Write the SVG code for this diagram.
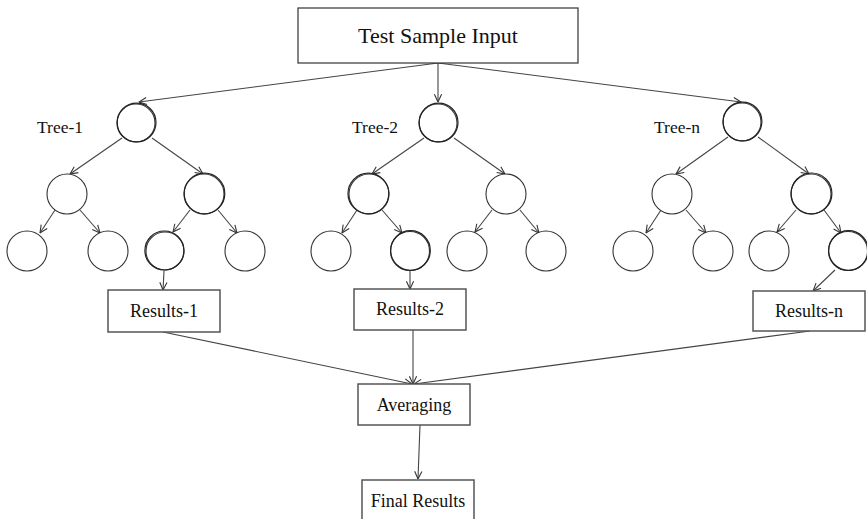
<svg xmlns="http://www.w3.org/2000/svg" width="867" height="519" viewBox="0 0 867 519">
  <defs>
    <marker id="arrow" viewBox="0 0 10 10" refX="9.5" refY="5" markerWidth="9" markerHeight="9" markerUnits="userSpaceOnUse" orient="auto">
      <polyline points="1,1 9.5,5 1,9" fill="none" stroke="#333" stroke-width="1.2"/>
    </marker>
    <style>
      .box { fill: #fff; stroke: #555; stroke-width: 1.5; }
      .title { fill: #fff; stroke: #333; stroke-width: 1.2; }
      .node { fill: #fff; stroke: #333; stroke-width: 1.1; }
      .sk { fill: none; stroke: #222; stroke-width: 1.2; }
      .edge { fill: none; stroke: #444; stroke-width: 1.1; marker-end: url(#arrow); }
      .txt { font-family: "Liberation Serif", "Times New Roman", serif; fill: #111; text-anchor: middle; dominant-baseline: central; }
      .lbl { font-family: "Liberation Serif", "Times New Roman", serif; fill: #111; font-size: 17.5px; }
    </style>
  </defs>
  <rect width="867" height="519" fill="#fff"/>

  <!-- connectors -->
  <g id="connectors">
    <!-- input to tree roots -->
    <line class="edge" x1="438" y1="63" x2="139" y2="102"/>
    <line class="edge" x1="438" y1="63" x2="438" y2="102"/>
    <line class="edge" x1="438" y1="63" x2="741" y2="102"/>
    <!-- Tree-1 edges -->
    <line class="edge" x1="122" y1="138" x2="70" y2="174"/>
    <line class="edge" x1="152" y1="138" x2="203" y2="174"/>
    <line class="edge" x1="55" y1="210" x2="40" y2="233"/>
    <line class="edge" x1="80" y1="210" x2="100" y2="233"/>
    <line class="edge" x1="190" y1="210" x2="173" y2="232"/>
    <line class="edge" x1="218" y1="210" x2="237" y2="233"/>
    <!-- Tree-2 edges -->
    <line class="edge" x1="424" y1="138" x2="372" y2="174"/>
    <line class="edge" x1="454" y1="138" x2="505" y2="174"/>
    <line class="edge" x1="357" y1="210" x2="342" y2="233"/>
    <line class="edge" x1="382" y1="210" x2="402" y2="233"/>
    <line class="edge" x1="492" y1="210" x2="475" y2="232"/>
    <line class="edge" x1="520" y1="210" x2="539" y2="233"/>
    <!-- Tree-n edges -->
    <line class="edge" x1="728" y1="137" x2="676" y2="174"/>
    <line class="edge" x1="758" y1="137" x2="809" y2="174"/>
    <line class="edge" x1="661" y1="210" x2="646" y2="233"/>
    <line class="edge" x1="686" y1="210" x2="706" y2="233"/>
    <line class="edge" x1="796" y1="210" x2="777" y2="232"/>
    <line class="edge" x1="824" y1="210" x2="841" y2="233"/>
    <!-- leaves to results -->
    <line class="edge" x1="164" y1="271" x2="163" y2="290"/>
    <line class="edge" x1="410" y1="271" x2="410" y2="289"/>
    <line class="edge" x1="835" y1="270" x2="813" y2="291"/>
    <!-- results to averaging -->
    <line class="edge" x1="163" y1="332" x2="412" y2="384"/>
    <line class="edge" x1="413" y1="330" x2="413" y2="384"/>
    <line class="edge" x1="810" y1="331" x2="414" y2="384"/>
    <!-- averaging to final -->
    <line class="edge" x1="420" y1="425" x2="418" y2="479"/>
  </g>

  <!-- input -->
  <g id="input">
    <rect class="title" x="298" y="8" width="280" height="55"/>
    <text class="txt" x="438" y="35" font-size="22">Test Sample Input</text>
  </g>

  <!-- Tree-1 -->
  <g id="tree-1">
    <text class="lbl" x="37" y="133">Tree-1</text>
    <g id="t1-root"><circle class="node" cx="136" cy="123" r="19"/><circle class="sk" cx="136.6" cy="122.5" r="19.4"/></g>
    <g id="t1-l"><circle class="node" cx="67" cy="194" r="20"/></g>
    <g id="t1-r"><circle class="node" cx="204" cy="194" r="20"/><circle class="sk" cx="204.5" cy="193.5" r="20.3"/></g>
    <g id="t1-ll"><circle class="node" cx="27" cy="251" r="20"/></g>
    <g id="t1-lr"><circle class="node" cx="108" cy="251" r="20"/></g>
    <g id="t1-rl"><circle class="node" cx="165" cy="251" r="19"/><circle class="sk" cx="164.4" cy="250.5" r="19.5"/></g>
    <g id="t1-rr"><circle class="node" cx="245" cy="251" r="20"/></g>
  </g>

  <!-- Tree-2 -->
  <g id="tree-2">
    <text class="lbl" x="352" y="133">Tree-2</text>
    <g id="t2-root"><circle class="node" cx="438" cy="123" r="19"/><circle class="sk" cx="438.6" cy="122.5" r="19.4"/></g>
    <g id="t2-l"><circle class="node" cx="369" cy="194" r="20"/><circle class="sk" cx="368.4" cy="193.5" r="20.4"/></g>
    <g id="t2-r"><circle class="node" cx="506" cy="194" r="20"/></g>
    <g id="t2-ll"><circle class="node" cx="331" cy="251" r="20"/></g>
    <g id="t2-lr"><circle class="node" cx="410" cy="251" r="19.5"/><circle class="sk" cx="410.5" cy="250.5" r="19.8"/></g>
    <g id="t2-rl"><circle class="node" cx="467" cy="251" r="20"/></g>
    <g id="t2-rr"><circle class="node" cx="546" cy="251" r="20"/></g>
  </g>

  <!-- Tree-n -->
  <g id="tree-n">
    <text class="lbl" x="654" y="133">Tree-n</text>
    <g id="tn-root"><circle class="node" cx="742" cy="122" r="19"/><circle class="sk" cx="742.5" cy="121.5" r="19.4"/></g>
    <g id="tn-l"><circle class="node" cx="672" cy="194" r="20"/></g>
    <g id="tn-r"><circle class="node" cx="811" cy="194" r="20"/><circle class="sk" cx="811.5" cy="193.4" r="20.4"/></g>
    <g id="tn-ll"><circle class="node" cx="633" cy="251" r="20"/></g>
    <g id="tn-lr"><circle class="node" cx="713" cy="251" r="20"/></g>
    <g id="tn-rl"><circle class="node" cx="769" cy="251" r="20"/></g>
    <g id="tn-rr"><circle class="node" cx="848" cy="251" r="19.5"/><circle class="sk" cx="848.5" cy="250.5" r="19.8"/></g>
  </g>

  <!-- results -->
  <g id="results-1">
    <rect class="box" x="108" y="290" width="112" height="42"/>
    <text class="txt" x="164" y="311" font-size="18">Results-1</text>
  </g>
  <g id="results-2">
    <rect class="box" x="354" y="289" width="112" height="41"/>
    <text class="txt" x="410" y="309" font-size="18">Results-2</text>
  </g>
  <g id="results-n">
    <rect class="box" x="753" y="291" width="112" height="40"/>
    <text class="txt" x="809" y="311" font-size="18">Results-n</text>
  </g>

  <!-- averaging -->
  <g id="averaging">
    <rect class="box" x="358" y="384" width="112" height="41"/>
    <text class="txt" x="414" y="405" font-size="18">Averaging</text>
  </g>

  <!-- final -->
  <g id="final-results">
    <rect class="box" x="362" y="480" width="112" height="50"/>
    <text class="txt" x="418" y="501" font-size="18">Final Results</text>
  </g>
</svg>
